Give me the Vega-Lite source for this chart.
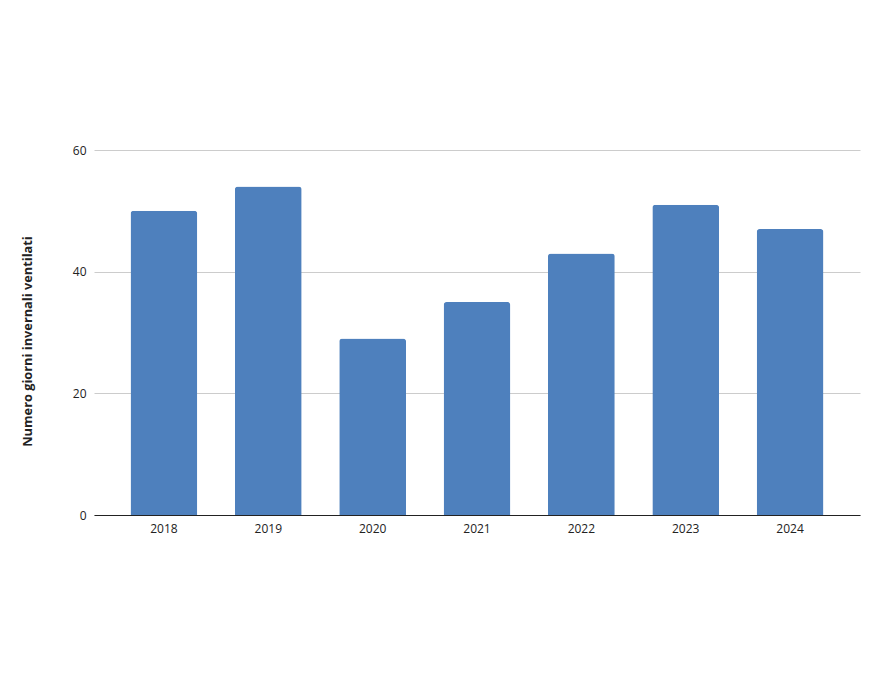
{
  "$schema": "https://vega.github.io/schema/vega-lite/v6.json",
  "autosize": "none",
  "width": 766,
  "height": 365,
  "padding": {"left": 94, "top": 150, "right": 22, "bottom": 167},
  "background": "white",
  "data": {"values": [
    {"anno": "2018", "giorni": 50},
    {"anno": "2019", "giorni": 54},
    {"anno": "2020", "giorni": 29},
    {"anno": "2021", "giorni": 35},
    {"anno": "2022", "giorni": 43},
    {"anno": "2023", "giorni": 51},
    {"anno": "2024", "giorni": 47}
  ]},
  "config": {"view": {"stroke": null}, "font": "Open Sans"},
  "mark": {"type": "bar", "color": "#4e80bd", "cornerRadiusTopLeft": 3, "cornerRadiusTopRight": 3},
  "encoding": {
    "x": {
      "field": "anno", "type": "nominal",
      "scale": {"paddingInner": 0.36, "paddingOuter": 0.35},
      "axis": {"title": null, "labelAngle": 0, "labelFontSize": 12, "labelColor": "#222", "labelPadding": 8, "domainColor": "#222", "domainWidth": 1, "ticks": false, "grid": false}
    },
    "y": {
      "field": "giorni", "type": "quantitative",
      "scale": {"domain": [0, 60], "nice": false},
      "axis": {"title": "Numero giorni invernali ventilati", "titleFontSize": 12.8, "titleFontWeight": "bold", "titleColor": "#222", "titlePadding": 38, "titleY": 191, "values": [0, 20, 40, 60], "labelFontSize": 12, "labelColor": "#222", "labelPadding": 8, "domain": false, "ticks": false, "gridColor": "#cccccc", "gridWidth": 1}
    }
  }
}
